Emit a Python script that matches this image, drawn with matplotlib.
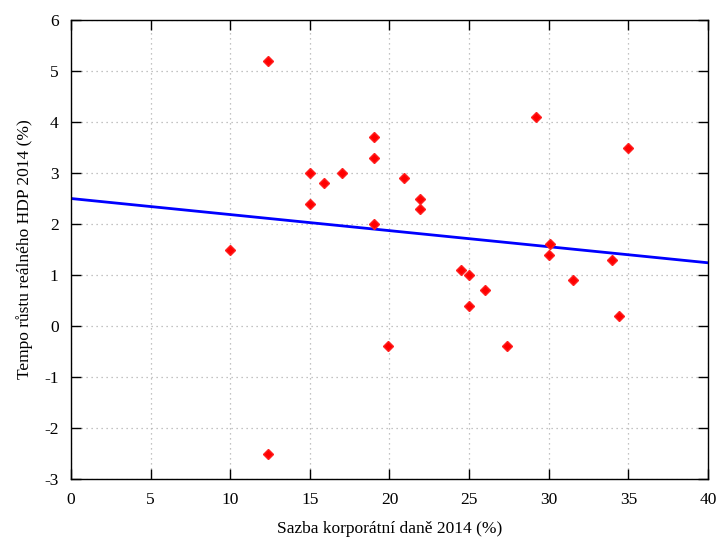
import matplotlib.pyplot as plt
import numpy as np

# corporate tax rate 2014 (%) vs real GDP growth 2014 (%)
tax_rate = [12.4, 19.0, 19.0, 15.0, 15.9, 17.0, 20.9, 21.9, 21.9, 15.0, 19.0, 10.0, 24.5,
            29.2, 35.0, 30.1, 30.0, 34.0, 25.0, 26.0, 31.5, 25.0, 34.4, 27.4, 19.9, 12.4]
gdp_growth = [5.2, 3.7, 3.3, 3.0, 2.8, 3.0, 2.9, 2.5, 2.3, 2.4, 2.0, 1.5, 1.1,
              4.1, 3.5, 1.6, 1.4, 1.3, 1.0, 0.7, 0.9, 0.4, 0.2, -0.4, -0.4, -2.5]

# trend line endpoints
trend_x = [0, 40]
trend_y = [2.5, 1.24]

plt.rcParams['font.family'] = ['Liberation Serif', 'DejaVu Serif']
plt.rcParams['axes.unicode_minus'] = False

fig = plt.figure(figsize=(7.18, 5.47), dpi=100)
ax = fig.add_axes([0.0989, 0.1243, 0.8871, 0.8391])

ax.plot(trend_x, trend_y, color='#0000ff', linewidth=2, zorder=2)
ax.plot(tax_rate, gdp_growth, linestyle='none', marker='D', markersize=5,
        color='#ff0000', markeredgecolor='#ff2020', markeredgewidth=1, zorder=3)

ax.set_xlim(0, 40)
ax.set_ylim(-3, 6)
ax.set_xticks(np.arange(0, 41, 5))
ax.set_yticks(np.arange(-3, 7, 1))
ax.tick_params(direction='in', length=7, width=1, top=True, right=True,
               labelsize=12.5, pad=9)
ax.grid(True, linestyle=(0, (1, 3)), color='#b0b0b0', linewidth=0.9)
for s in ax.spines.values():
    s.set_linewidth(1)

ax.set_xlabel('Sazba korporátní daně 2014 (%)', fontsize=12.5, labelpad=10)
ax.set_ylabel('Tempo růstu reálného HDP 2014 (%)', fontsize=12.5, labelpad=8)

plt.savefig('out.png', dpi=100)
